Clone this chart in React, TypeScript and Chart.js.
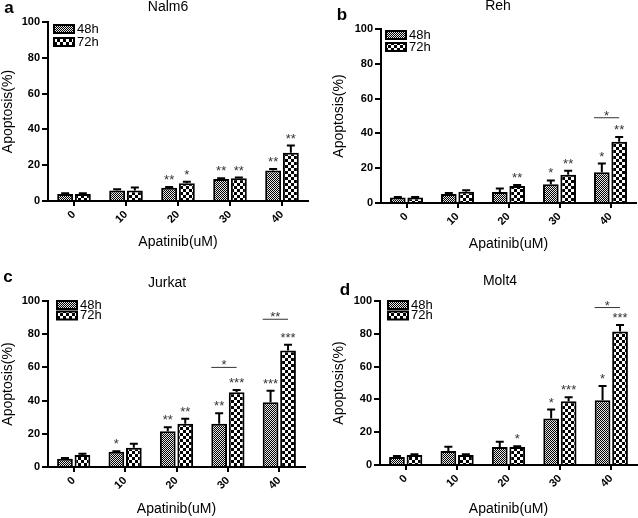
import React, { useEffect, useRef } from "react";
import { Chart, registerables } from "chart.js";

Chart.register(...registerables);

// ---------- data ----------
const categories = ["0", "10", "20", "30", "40"];
const seriesNames = ["48h", "72h"];

const nalm6H48 = [3.9, 5.8, 7.4, 12.3, 17.0];
const nalm6H48Err = [0.4, 0.7, 0.4, 0.4, 0.9];
const nalm6H72 = [3.9, 5.8, 9.9, 12.7, 27.0];
const nalm6H72Err = [0.4, 1.8, 0.9, 0.4, 4.0];
const nalm6Sig48 = ["", "", "**", "**", "**"];
const nalm6Sig72 = ["", "", "*", "**", "**"];
const nalm6BracketCat: number[] = [];
const nalm6BracketY: number[] = [];
const nalm6BracketLabel: string[] = [];

const rehH48 = [3.1, 5.2, 6.3, 10.8, 17.7];
const rehH48Err = [0.3, 0.6, 2.0, 2.2, 5.0];
const rehH72 = [3.1, 6.5, 9.8, 16.3, 35.2];
const rehH72Err = [0.3, 0.8, 0.5, 2.2, 2.8];
const rehSig48 = ["", "", "", "*", "*"];
const rehSig72 = ["", "", "**", "**", "**"];
const rehBracketCat = [4];
const rehBracketY = [49];
const rehBracketLabel = ["*"];

const jurkatH48 = [5.0, 9.2, 21.6, 26.0, 39.0];
const jurkatH48Err = [0.4, 0.3, 2.4, 6.4, 7.0];
const jurkatH72 = [7.2, 11.6, 26.0, 45.0, 70.2];
const jurkatH72Err = [0.8, 2.4, 3.0, 1.4, 3.4];
const jurkatSig48 = ["", "*", "**", "**", "***"];
const jurkatSig72 = ["", "", "**", "***", "***"];
const jurkatBracketCat = [3, 4];
const jurkatBracketY = [60, 89];
const jurkatBracketLabel = ["*", "**"];

const molt4H48 = [4.9, 8.5, 10.9, 28.3, 39.5];
const molt4H48Err = [0.6, 2.6, 3.3, 5.5, 8.7];
const molt4H72 = [6.1, 6.1, 10.9, 38.9, 81.4];
const molt4H72Err = [0.5, 0.4, 0.5, 2.4, 4.0];
const molt4Sig48 = ["", "", "", "*", "*"];
const molt4Sig72 = ["", "", "*", "***", "***"];
const molt4BracketCat = [4];
const molt4BracketY = [96];
const molt4BracketLabel = ["*"];

const yTitle = "Apoptosis(%)";
const xTitle = "Apatinib(uM)";

// ---------- layout (styles) ----------
const FONT = "'Liberation Sans', Arial, sans-serif";

type PanelLayout = {
  left: number; top: number; w: number; h: number;
  padTop: number; padRight: number; yW: number; xH: number;
  yTitlePad: number; xTitlePad: number;
  titleX: number; titleY: number; letterX: number; letterY: number;
  legX: number; legY: number; legStep: number;
};

const layouts: PanelLayout[] = [
  { left: 0, top: 0, w: 319, h: 259, padTop: 22, padRight: 11, yW: 48, xH: 58, yTitlePad: 0, xTitlePad: 8, titleX: 168, titleY: 7, letterX: 9, letterY: 8, legX: 6, legY: 3, legStep: 13 },
  { left: 319, top: 0, w: 319, h: 259, padTop: 29, padRight: 2, yW: 62, xH: 56, yTitlePad: 12, xTitlePad: 6, titleX: 179, titleY: 6, letterX: 23, letterY: 15, legX: 5, legY: 2, legStep: 12 },
  { left: 0, top: 259, w: 319, h: 259, padTop: 42, padRight: 14, yW: 48, xH: 51, yTitlePad: 0, xTitlePad: 0, titleX: 167, titleY: 24, letterX: 8, letterY: 18, legX: 9, legY: 0, legStep: 10.5 },
  { left: 319, top: 259, w: 319, h: 259, padTop: 42, padRight: 1, yW: 61, xH: 53, yTitlePad: 12, xTitlePad: 0, titleX: 181, titleY: 22, letterX: 26, letterY: 31, legX: 8, legY: 0, legStep: 10.5 },
];

type PanelData = {
  title: string; letter: string;
  v48: number[]; e48: number[]; v72: number[]; e72: number[];
  s48: string[]; s72: string[];
  bCat: number[]; bY: number[]; bLabel: string[];
};

const panelsData: PanelData[] = [
  { title: "Nalm6", letter: "a", v48: nalm6H48, e48: nalm6H48Err, v72: nalm6H72, e72: nalm6H72Err, s48: nalm6Sig48, s72: nalm6Sig72, bCat: nalm6BracketCat, bY: nalm6BracketY, bLabel: nalm6BracketLabel },
  { title: "Reh", letter: "b", v48: rehH48, e48: rehH48Err, v72: rehH72, e72: rehH72Err, s48: rehSig48, s72: rehSig72, bCat: rehBracketCat, bY: rehBracketY, bLabel: rehBracketLabel },
  { title: "Jurkat", letter: "c", v48: jurkatH48, e48: jurkatH48Err, v72: jurkatH72, e72: jurkatH72Err, s48: jurkatSig48, s72: jurkatSig72, bCat: jurkatBracketCat, bY: jurkatBracketY, bLabel: jurkatBracketLabel },
  { title: "Molt4", letter: "d", v48: molt4H48, e48: molt4H48Err, v72: molt4H72, e72: molt4H72Err, s48: molt4Sig48, s72: molt4Sig72, bCat: molt4BracketCat, bY: molt4BracketY, bLabel: molt4BracketLabel },
];

function makePattern(kind: number): CanvasPattern | string {
  const c = document.createElement("canvas");
  const size = kind === 0 ? 2 : 6;
  c.width = size; c.height = size;
  const g = c.getContext("2d");
  if (!g) return "#888";
  g.fillStyle = kind === 0 ? "#e8e8e8" : "#fff";
  g.fillRect(0, 0, size, size);
  g.fillStyle = "#000";
  const cell = size / 2;
  g.fillRect(0, 0, cell, cell);
  g.fillRect(cell, cell, cell, cell);
  const p = g.createPattern(c, "repeat");
  return p || "#888";
}

function PanelChart({ data, layout }: { data: PanelData; layout: PanelLayout }) {
  const ref = useRef<HTMLCanvasElement | null>(null);
  useEffect(() => {
    if (!ref.current) return;
    const pats = [makePattern(0), makePattern(1)];
    const errs = [data.e48, data.e72];
    const sigs = [data.s48, data.s72];

    const overlay = {
      id: "overlay",
      afterDatasetsDraw(chart: any) {
        const ctx: CanvasRenderingContext2D = chart.ctx;
        const ys = chart.scales.y;
        ctx.save();
        for (let d = 0; d < 2; d++) {
          const meta = chart.getDatasetMeta(d);
          const vals = chart.data.datasets[d].data as number[];
          meta.data.forEach((bar: any, j: number) => {
            const top = ys.getPixelForValue(vals[j] + errs[d][j]);
            const barTop = ys.getPixelForValue(vals[j]);
            ctx.strokeStyle = "#000";
            ctx.lineWidth = 2;
            ctx.beginPath();
            ctx.moveTo(bar.x, barTop);
            ctx.lineTo(bar.x, top);
            ctx.moveTo(bar.x - 4, top);
            ctx.lineTo(bar.x + 4, top);
            ctx.stroke();
            const s = sigs[d][j];
            if (s) {
              ctx.fillStyle = "#333";
              ctx.font = `13px ${FONT}`;
              ctx.textAlign = "center";
              ctx.textBaseline = "alphabetic";
              ctx.fillText(s, bar.x, top - 3);
            }
          });
        }
        data.bCat.forEach((ci, k) => {
          const b48 = chart.getDatasetMeta(0).data[ci] as any;
          const b72 = chart.getDatasetMeta(1).data[ci] as any;
          const y = ys.getPixelForValue(data.bY[k]);
          const x1 = b48.x - b48.width / 2;
          const x2 = b72.x;
          ctx.strokeStyle = "#333";
          ctx.lineWidth = 1;
          ctx.beginPath();
          ctx.moveTo(x1, y);
          ctx.lineTo(x2, y);
          ctx.stroke();
          ctx.fillStyle = "#333";
          ctx.font = `13px ${FONT}`;
          ctx.textAlign = "center";
          ctx.textBaseline = "alphabetic";
          ctx.fillText(data.bLabel[k], (x1 + x2) / 2, y + 2);
        });
        ctx.restore();
      },
      afterDraw(chart: any) {
        const ctx: CanvasRenderingContext2D = chart.ctx;
        const ca = chart.chartArea;
        ctx.save();
        seriesNames.forEach((name, i) => {
          const bx = ca.left + layout.legX;
          const by = ca.top + layout.legY + i * layout.legStep;
          ctx.fillStyle = pats[i] as any;
          ctx.fillRect(bx, by, 20, 8);
          ctx.strokeStyle = "#000";
          ctx.lineWidth = 2;
          ctx.strokeRect(bx, by, 20, 8);
          ctx.fillStyle = "#000";
          ctx.font = `13px ${FONT}`;
          ctx.textAlign = "left";
          ctx.textBaseline = "middle";
          ctx.fillText(name, bx + 23, by + 4);
        });
        ctx.fillStyle = "#000";
        ctx.font = `14px ${FONT}`;
        ctx.textAlign = "center";
        ctx.textBaseline = "middle";
        ctx.fillText(data.title, layout.titleX, layout.titleY);
        ctx.font = `bold 17px ${FONT}`;
        ctx.fillText(data.letter, layout.letterX, layout.letterY);
        ctx.restore();
      },
    };

    const chart = new Chart(ref.current, {
      type: "bar",
      data: {
        labels: categories,
        datasets: [
          { label: seriesNames[0], data: data.v48, backgroundColor: pats[0] as any, borderColor: "#000", borderWidth: 2 },
          { label: seriesNames[1], data: data.v72, backgroundColor: pats[1] as any, borderColor: "#000", borderWidth: 2 },
        ],
      },
      options: {
        responsive: false,
        animation: false,
        datasets: { bar: { categoryPercentage: 0.68, barPercentage: 0.9 } },
        layout: { padding: { top: layout.padTop, right: layout.padRight, left: 0, bottom: 0 } },
        plugins: { legend: { display: false }, tooltip: { enabled: false }, title: { display: false } },
        scales: {
          x: {
            offset: true,
            grid: { display: true, offset: false, drawOnChartArea: false, drawTicks: true, tickLength: 5, color: "#000", lineWidth: 2 },
            border: { display: true, color: "#000", width: 2 },
            ticks: { color: "#000", font: { family: FONT, size: 11, weight: "bold" }, maxRotation: 45, minRotation: 45, padding: 2 },
            title: { display: true, text: xTitle, color: "#000", font: { family: FONT, size: 14 }, padding: { top: 0, bottom: layout.xTitlePad } },
            afterFit: (s: any) => { s.height = layout.xH; },
          },
          y: {
            min: 0, max: 100,
            ticks: { stepSize: 20, color: "#000", font: { family: FONT, size: 11, weight: "bold" }, padding: 2 },
            grid: { display: true, drawOnChartArea: false, drawTicks: true, tickLength: 6, color: "#000", lineWidth: 2 },
            border: { display: true, color: "#000", width: 2 },
            title: { display: true, text: yTitle, color: "#000", font: { family: FONT, size: 14 }, padding: { top: layout.yTitlePad, bottom: 0 } },
            afterFit: (s: any) => { s.width = layout.yW; },
          },
        },
      },
      plugins: [overlay],
    });
    return () => chart.destroy();
  }, [data, layout]);

  return (
    <canvas
      ref={ref}
      width={layout.w}
      height={layout.h}
      style={{ position: "absolute", left: layout.left, top: layout.top, width: layout.w, height: layout.h }}
    />
  );
}

export default function App() {
  return (
    <div style={{ position: "absolute", left: 0, top: 0, width: 638, height: 518, background: "#fff", overflow: "hidden" }}>
      {panelsData.map((d, i) => (
        <PanelChart key={i} data={d} layout={layouts[i]} />
      ))}
    </div>
  );
}
